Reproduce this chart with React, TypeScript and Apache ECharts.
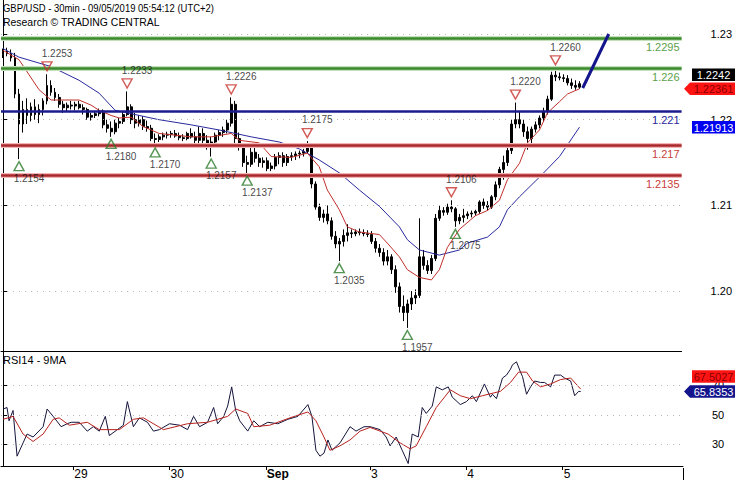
import { useEffect, useRef } from 'react';
import * as echarts from 'echarts';

const FONT = 'Arial, Liberation Sans, sans-serif';

// trading sessions: date, first hour, last hour (hourly candles, UTC+2)
const sessions: [string, number, number][] = [
  ['2019-08-28', 6, 23],
  ['2019-08-29', 0, 23],
  ['2019-08-30', 0, 23],
  ['2019-09-01', 22, 23],
  ['2019-09-02', 0, 23],
  ['2019-09-03', 0, 23],
  ['2019-09-04', 0, 23],
  ['2019-09-05', 0, 4],
];
const futureSlots = 25;

// candles: [open, close, low, high]
const aug28 = [
  [1.2276, 1.2280, 1.2272, 1.2283], [1.2280, 1.2277, 1.2274, 1.2284], [1.2277, 1.2272, 1.2268, 1.2282],
  [1.2272, 1.2230, 1.2225, 1.2278], [1.2230, 1.2195, 1.2154, 1.2236], [1.2195, 1.2212, 1.2185, 1.2222],
  [1.2212, 1.2205, 1.2195, 1.2225], [1.2205, 1.2215, 1.2198, 1.2220], [1.2215, 1.2206, 1.2200, 1.2224],
  [1.2206, 1.2212, 1.2196, 1.2218], [1.2212, 1.2222, 1.2205, 1.2225], [1.2222, 1.2240, 1.2218, 1.2253],
  [1.2240, 1.2232, 1.2228, 1.2246], [1.2232, 1.2226, 1.2222, 1.2237], [1.2226, 1.2218, 1.2214, 1.2230],
  [1.2218, 1.2214, 1.2208, 1.2222], [1.2214, 1.2217, 1.2210, 1.2220], [1.2217, 1.2216, 1.2212, 1.2222],
];
const aug29 = [
  [1.2216, 1.2218, 1.2211, 1.2221], [1.2218, 1.2214, 1.2212, 1.2222], [1.2214, 1.2212, 1.2206, 1.2218],
  [1.2212, 1.2203, 1.2200, 1.2214], [1.2203, 1.2205, 1.2199, 1.2208], [1.2205, 1.2207, 1.2202, 1.2210],
  [1.2207, 1.2210, 1.2204, 1.2213], [1.2210, 1.2194, 1.2190, 1.2212], [1.2194, 1.2190, 1.2185, 1.2200],
  [1.2190, 1.2186, 1.2180, 1.2198], [1.2186, 1.2196, 1.2183, 1.2200], [1.2196, 1.2198, 1.2190, 1.2202],
  [1.2198, 1.2206, 1.2195, 1.2210], [1.2206, 1.2215, 1.2204, 1.2233], [1.2215, 1.2200, 1.2195, 1.2218],
  [1.2200, 1.2196, 1.2190, 1.2208], [1.2196, 1.2200, 1.2192, 1.2205], [1.2200, 1.2192, 1.2188, 1.2204],
  [1.2192, 1.2190, 1.2186, 1.2199], [1.2190, 1.2178, 1.2175, 1.2194], [1.2178, 1.2177, 1.2170, 1.2184],
  [1.2177, 1.2180, 1.2174, 1.2183], [1.2180, 1.2182, 1.2176, 1.2185], [1.2182, 1.2183, 1.2178, 1.2186],
];
const aug30 = [
  [1.2183, 1.2184, 1.2179, 1.2187], [1.2184, 1.2181, 1.2179, 1.2188], [1.2181, 1.2179, 1.2176, 1.2185],
  [1.2179, 1.2178, 1.2175, 1.2183], [1.2178, 1.2184, 1.2176, 1.2186], [1.2184, 1.2180, 1.2178, 1.2190],
  [1.2180, 1.2176, 1.2172, 1.2186], [1.2176, 1.2184, 1.2170, 1.2192], [1.2184, 1.2176, 1.2172, 1.2190],
  [1.2176, 1.2172, 1.2165, 1.2182], [1.2172, 1.2174, 1.2157, 1.2180], [1.2174, 1.2182, 1.2170, 1.2185],
  [1.2182, 1.2185, 1.2176, 1.2188], [1.2185, 1.2188, 1.2180, 1.2192], [1.2188, 1.2196, 1.2184, 1.2200],
  [1.2196, 1.2218, 1.2192, 1.2226], [1.2218, 1.2178, 1.2172, 1.2222], [1.2178, 1.2168, 1.2164, 1.2185],
  [1.2168, 1.2150, 1.2145, 1.2172], [1.2150, 1.2148, 1.2137, 1.2158], [1.2148, 1.2162, 1.2145, 1.2168],
  [1.2162, 1.2155, 1.2150, 1.2170], [1.2155, 1.2150, 1.2145, 1.2160], [1.2150, 1.2152, 1.2144, 1.2156],
];
const sep1 = [
  [1.2152, 1.2143, 1.2140, 1.2156], [1.2143, 1.2146, 1.2140, 1.2150],
];
const sep2 = [
  [1.2146, 1.2156, 1.2142, 1.2160], [1.2156, 1.2158, 1.2148, 1.2162], [1.2158, 1.2150, 1.2145, 1.2162],
  [1.2150, 1.2157, 1.2146, 1.2160], [1.2157, 1.2158, 1.2152, 1.2162], [1.2158, 1.2160, 1.2153, 1.2163],
  [1.2160, 1.2161, 1.2155, 1.2164], [1.2161, 1.2163, 1.2157, 1.2166], [1.2163, 1.2168, 1.2160, 1.2175],
  [1.2168, 1.2125, 1.2120, 1.2170], [1.2125, 1.2098, 1.2095, 1.2128], [1.2098, 1.2086, 1.2082, 1.2102],
  [1.2086, 1.2090, 1.2080, 1.2095], [1.2090, 1.2082, 1.2078, 1.2100], [1.2082, 1.2064, 1.2060, 1.2086],
  [1.2064, 1.2055, 1.2050, 1.2070], [1.2055, 1.2058, 1.2035, 1.2062], [1.2058, 1.2065, 1.2052, 1.2072],
  [1.2065, 1.2068, 1.2058, 1.2078], [1.2068, 1.2067, 1.2062, 1.2072], [1.2067, 1.2069, 1.2064, 1.2072],
  [1.2069, 1.2068, 1.2065, 1.2073], [1.2068, 1.2067, 1.2064, 1.2072], [1.2067, 1.2066, 1.2063, 1.2071],
];
const sep3 = [
  [1.2066, 1.2058, 1.2055, 1.2070], [1.2058, 1.2050, 1.2045, 1.2062], [1.2050, 1.2045, 1.2040, 1.2055],
  [1.2045, 1.2035, 1.2030, 1.2050], [1.2035, 1.2040, 1.2030, 1.2048], [1.2040, 1.2025, 1.2020, 1.2043],
  [1.2025, 1.2005, 1.1998, 1.2030], [1.2005, 1.1982, 1.1975, 1.2010], [1.1982, 1.1975, 1.1965, 1.1995],
  [1.1975, 1.1985, 1.1957, 1.1990], [1.1985, 1.1992, 1.1978, 1.2000], [1.1992, 1.1995, 1.1985, 1.2002],
  [1.1995, 1.2040, 1.1992, 1.2085], [1.2040, 1.2030, 1.2025, 1.2048], [1.2030, 1.2024, 1.2020, 1.2036],
  [1.2024, 1.2038, 1.2020, 1.2042], [1.2038, 1.2085, 1.2035, 1.2090], [1.2085, 1.2094, 1.2082, 1.2100],
  [1.2094, 1.2092, 1.2088, 1.2098], [1.2092, 1.2098, 1.2089, 1.2102], [1.2098, 1.2096, 1.2092, 1.2106],
  [1.2096, 1.2082, 1.2075, 1.2098], [1.2082, 1.2086, 1.2078, 1.2090], [1.2086, 1.2088, 1.2080, 1.2096],
];
const sep4 = [
  [1.2088, 1.2090, 1.2084, 1.2093], [1.2090, 1.2091, 1.2086, 1.2094], [1.2091, 1.2093, 1.2088, 1.2095],
  [1.2093, 1.2104, 1.2090, 1.2106], [1.2104, 1.2100, 1.2096, 1.2108], [1.2100, 1.2098, 1.2094, 1.2105],
  [1.2098, 1.2110, 1.2096, 1.2112], [1.2110, 1.2124, 1.2106, 1.2128], [1.2124, 1.2142, 1.2120, 1.2145],
  [1.2142, 1.2150, 1.2130, 1.2158], [1.2150, 1.2164, 1.2146, 1.2168], [1.2164, 1.2195, 1.2160, 1.2200],
  [1.2195, 1.2200, 1.2190, 1.2220], [1.2200, 1.2195, 1.2190, 1.2210], [1.2195, 1.2186, 1.2180, 1.2200],
  [1.2186, 1.2178, 1.2165, 1.2192], [1.2178, 1.2189, 1.2172, 1.2192], [1.2189, 1.2194, 1.2185, 1.2198],
  [1.2194, 1.2202, 1.2190, 1.2205], [1.2202, 1.2210, 1.2198, 1.2214], [1.2210, 1.2224, 1.2206, 1.2228],
  [1.2224, 1.2252, 1.2222, 1.2256], [1.2252, 1.2250, 1.2245, 1.2260], [1.2250, 1.2249, 1.2246, 1.2255],
];
const sep5 = [
  [1.2249, 1.2248, 1.2244, 1.2253], [1.2248, 1.2243, 1.2240, 1.2252], [1.2243, 1.2240, 1.2236, 1.2248],
  [1.2240, 1.2238, 1.2235, 1.2246], [1.2238, 1.2242, 1.2236, 1.2245],
];

// moving averages on price: [bar index, value]
const maFast: [number, number][] = [
  [0, 1.2281], [4, 1.2270], [9, 1.2235], [12, 1.2223], [19, 1.2223], [22, 1.2217], [24, 1.2211],
  [27, 1.2205], [29, 1.2202], [32, 1.2203], [35, 1.2192], [39, 1.2184], [47, 1.2180], [52, 1.2180],
  [57, 1.2184], [59, 1.2176], [64, 1.2173], [67, 1.2157], [72, 1.2156], [76, 1.2161], [79, 1.2145],
  [81, 1.2118], [84, 1.2095], [86, 1.2075], [89, 1.2069], [94, 1.2066], [96, 1.2056], [99, 1.2040],
  [101, 1.2025], [104, 1.2016], [107, 1.2013], [109, 1.2025], [111, 1.2051], [114, 1.2072],
  [118, 1.2088], [121, 1.2094], [124, 1.2106], [126, 1.2130], [129, 1.2149], [131, 1.2173],
  [134, 1.2188], [136, 1.2208], [139, 1.2221], [141, 1.2230], [144, 1.22361],
];
const maSlow: [number, number][] = [
  [0, 1.2283], [4, 1.2273], [12, 1.2262], [19, 1.2246], [24, 1.2231], [28, 1.2211], [34, 1.2205],
  [39, 1.2200], [47, 1.2194], [54, 1.2188], [62, 1.2180], [69, 1.2174], [74, 1.2166], [79, 1.2153],
  [84, 1.2138], [89, 1.2118], [94, 1.2099], [99, 1.2075], [101, 1.2060], [104, 1.2048], [109, 1.2042],
  [114, 1.2048], [116, 1.2056], [121, 1.2063], [124, 1.2075], [126, 1.2095], [129, 1.2110],
  [134, 1.2133], [139, 1.2157], [144, 1.21913],
];

// pivot annotations: [bar index, price]
const pivotHighs: [number, number][] = [
  [11, 1.2253], [31, 1.2233], [57, 1.2226], [76, 1.2175], [112, 1.2106], [128, 1.2220], [138, 1.2260],
];
const pivotLows: [number, number][] = [
  [4, 1.2154], [27, 1.2180], [38, 1.2170], [52, 1.2157], [61, 1.2137], [84, 1.2035], [101, 1.1957], [113, 1.2075],
];

// support / resistance levels
const levelValues = [1.2295, 1.226, 1.221, 1.217, 1.2135];
const levelLabels = ['1.2295', '1.226', '1.221', '1.217', '1.2135'];
const levelKinds = ['green', 'green', 'blue', 'red', 'red'];

// projection arrow [bar index, price]
const arrowFrom: [number, number] = [144.8, 1.2237];
const arrowTo: [number, number] = [151.3, 1.2300];

// RSI(14) and its 9-period MA: [bar index, value]
const rsi14: [number, number][] = [
  [0, 54], [1, 55], [1.5, 46], [2.5, 53], [3.5, 22], [5, 31], [6, 37], [7.5, 35], [10, 42], [11, 54],
  [12.5, 49], [14.5, 42], [16, 44], [17, 45], [19, 45], [21, 39], [22.5, 42], [24, 39], [25.5, 49],
  [26.5, 36], [28.5, 40], [30, 43], [31, 59], [32.5, 42], [34, 48], [36, 45], [37.5, 39], [39, 40],
  [41.5, 44], [44, 43], [46, 40], [47.5, 49], [49, 42], [51, 45], [52.5, 55], [53.5, 44], [55, 49],
  [56, 56], [57, 69], [58, 53], [59, 46], [61, 39], [62.5, 46], [64, 42], [66, 45], [68.5, 44],
  [71, 47], [73.5, 49], [76, 57], [77, 49], [78, 26], [79, 22], [80, 24], [81, 33], [82, 26], [84, 31],
  [86.5, 42], [88, 39], [90, 42], [91.5, 42], [94, 40], [95.5, 35], [96.5, 29], [98, 35], [99.5, 26],
  [101, 17], [102, 37], [103.5, 35], [104.5, 55], [105.5, 51], [107, 56], [108, 69], [109.5, 67],
  [111, 69], [112, 62], [114, 57], [115.5, 59], [117, 63], [118, 59], [120, 71], [121.5, 62], [122, 64],
  [123, 61], [124.5, 75], [125.5, 77], [126.5, 81], [127, 84], [128, 86], [129, 79], [129.5, 76],
  [130.5, 64], [131.5, 69], [132.5, 73], [134, 72], [135, 72], [136.5, 69], [137.5, 77], [139, 77],
  [140, 75], [141.5, 73], [142.5, 63], [143.5, 66], [144, 65.8353],
];
const rsiMa9: [number, number][] = [
  [0, 47], [2.5, 49], [5, 37], [7.5, 32], [10, 37], [12.5, 47], [14, 48], [16.5, 43], [21, 45], [24, 40],
  [29, 40], [32.5, 47], [35, 48], [40, 40], [46, 44], [51, 45], [56, 49], [58, 54], [61, 51], [62.5, 42],
  [66.5, 43], [71.5, 48], [76, 52], [78, 46], [80, 35], [81.5, 26], [84, 29], [86.5, 33], [89, 39],
  [91.5, 41.5], [96, 37], [99, 31], [101.5, 27], [103, 29], [105.5, 42], [108, 55], [111.5, 67],
  [114, 63], [116.5, 61], [119.5, 63], [124, 66], [126.5, 72], [128.5, 79], [130.5, 79], [132, 73],
  [134, 69], [136.5, 71], [139, 74], [141.5, 75], [144, 67.5027],
];

// axes
const priceTicks = [1.2, 1.21, 1.22, 1.23];
const rsiTicks = [30, 50, 70];
const priceExtent: [number, number] = [1.19301, 1.23397];
const rsiExtent: [number, number] = [15.33, 92.67];
const dayMarks: [string, string][] = [
  ['2019-08-29 00:00', '29'], ['2019-08-30 00:00', '30'], ['2019-09-01 22:00', 'Sep'],
  ['2019-09-03 00:00', '3'], ['2019-09-04 00:00', '4'], ['2019-09-05 00:00', '5'],
];

const titleText = 'GBP/USD - 30min - 09/05/2019 05:54:12 (UTC+2)';
const subtitleText = 'Research © TRADING CENTRAL';
const rsiTitle = 'RSI14 - 9MA';

export default function App() {
  const ref = useRef<HTMLDivElement>(null);

  useEffect(() => {
    if (!ref.current) return;
    const times: string[] = [];
    sessions.forEach(([d, a, b]) => {
      for (let h = a; h <= b; h++) times.push(`${d} ${String(h).padStart(2, '0')}:00`);
    });
    const categories = [...times, ...Array.from({ length: futureSlots }, (_, i) => `+${i + 1}h`)];
    const nSlots = categories.length;
    const candles = [...aug28, ...aug29, ...aug30, ...sep1, ...sep2, ...sep3, ...sep4, ...sep5];
    const dayTickVals = dayMarks.map(([t]) => times.indexOf(t) - 0.5);
    const dayTickLabel = (v: number) => {
      const i = dayTickVals.findIndex((d) => Math.abs(d - v) < 1e-6);
      if (i < 0) return '';
      const l = dayMarks[i][1];
      return l === 'Sep' ? `{b|${l}}` : l;
    };

    const styles: Record<string, { line: string; halo: string | null; text: string }> = {
      green: { line: '#3b8a2e', halo: '#c4e0bb', text: '#5c9f4a' },
      blue: { line: '#1b1b8e', halo: null, text: '#26269a' },
      red: { line: '#a8282c', halo: '#f2b4b4', text: '#c8403c' },
    };
    const levelLines: any[] = [];
    levelValues.forEach((v, i) => {
      const s = styles[levelKinds[i]];
      if (s.halo) levelLines.push({ yAxis: v, lineStyle: { color: s.halo, width: 5, type: 'solid' }, label: { show: false } });
      levelLines.push({
        yAxis: v,
        lineStyle: { color: s.line, width: 2.5, type: 'solid' },
        label: {
          show: true, formatter: levelLabels[i], position: 'insideEndBottom', color: s.text,
          fontSize: 11, fontFamily: FONT, distance: [2, 3],
        },
      });
    });

    const dotted = { color: '#b8b8b8', width: 1, type: [1, 5] as any };

    const pivotLabel = {
      show: true, fontSize: 10, fontFamily: FONT, color: '#111', offset: [10, 0],
      formatter: (p: any) => p.value[1].toFixed(4),
    };

    const option: any = {
      animation: false,
      backgroundColor: '#fff',
      grid: [
        { left: 1, right: 52, top: 0, height: 351 },
        { left: 1, right: 52, top: 352, height: 116 },
      ],
      xAxis: [
        {
          type: 'category', gridIndex: 0, data: categories, boundaryGap: true,
          axisLine: { show: true, lineStyle: { color: '#000', width: 1 } },
          axisTick: { show: false }, axisLabel: { show: false }, splitLine: { show: false },
        },
        { type: 'value', gridIndex: 0, min: -0.5, max: nSlots - 0.5, show: false },
        {
          type: 'value', gridIndex: 1, min: -0.5, max: nSlots - 0.5,
          axisLine: { show: true, lineStyle: { color: '#000', width: 1 } },
          axisTick: { show: true, customValues: dayTickVals, length: 4, lineStyle: { color: '#000' } },
          axisLabel: {
            show: true, customValues: dayTickVals, formatter: dayTickLabel, align: 'left', margin: 2,
            padding: [0, 0, 0, 1], fontSize: 12, fontFamily: FONT, color: '#000',
            rich: { b: { fontWeight: 'bold', fontSize: 12, fontFamily: FONT, color: '#000' } },
          },
          splitLine: { show: false },
        },
      ],
      yAxis: [
        {
          type: 'value', gridIndex: 0, position: 'right', min: priceExtent[0], max: priceExtent[1],
          axisLine: { show: true, lineStyle: { color: '#000', width: 1 } },
          axisTick: { show: true, customValues: priceTicks, length: 5, lineStyle: { color: '#000' } },
          axisLabel: {
            show: true, customValues: priceTicks, margin: 29, fontSize: 11, fontFamily: FONT, color: '#000',
            formatter: (v: number) => v.toFixed(2),
          },
          splitLine: { show: false },
        },
        {
          type: 'value', gridIndex: 1, position: 'right', min: rsiExtent[0], max: rsiExtent[1],
          axisLine: { show: true, lineStyle: { color: '#000', width: 1 } },
          axisTick: { show: true, customValues: rsiTicks, length: 5, lineStyle: { color: '#000' } },
          axisLabel: {
            show: true, customValues: rsiTicks, margin: 29, fontSize: 11, fontFamily: FONT, color: '#000',
            formatter: (v: number) => String(v),
          },
          splitLine: { show: false },
        },
      ],
      series: [
        {
          type: 'line', xAxisIndex: 1, yAxisIndex: 0, data: [], silent: true, z: 1,
          markLine: {
            silent: true, symbol: 'none', animation: false, precision: 5,
            lineStyle: dotted, label: { show: false },
            data: priceTicks.map((v) => ({ yAxis: v })),
          },
        },
        {
          type: 'candlestick', xAxisIndex: 0, yAxisIndex: 0, data: candles, barWidth: 2.4, z: 2, silent: true,
          itemStyle: { color: '#000', color0: '#000', borderColor: '#000', borderColor0: '#000', borderWidth: 1 },
        },
        {
          type: 'line', xAxisIndex: 1, yAxisIndex: 0, data: [], silent: true, z: 3,
          markLine: { silent: true, symbol: 'none', animation: false, precision: 5, data: levelLines },
        },
        {
          type: 'line', xAxisIndex: 1, yAxisIndex: 0, data: maSlow, showSymbol: false, silent: true, z: 4,
          lineStyle: { color: '#2a2a9e', width: 1 },
        },
        {
          type: 'line', xAxisIndex: 1, yAxisIndex: 0, data: maFast, showSymbol: false, silent: true, z: 4,
          lineStyle: { color: '#c0302c', width: 1 },
          markLine: {
            silent: true, animation: false, precision: 5, symbol: ['none', 'arrow'], symbolSize: [0, 13],
            lineStyle: { color: '#14148c', width: 3, type: 'solid' }, label: { show: false },
            data: [[{ coord: arrowFrom }, { coord: arrowTo }]],
          },
        },
        {
          type: 'scatter', xAxisIndex: 0, yAxisIndex: 0, data: pivotHighs, silent: true, z: 5,
          symbol: 'path://M0,0L10,0L5,9Z', symbolSize: [10, 9], symbolOffset: [0, -8],
          itemStyle: { color: 'rgba(255,255,255,0)', borderColor: '#c8322d', borderWidth: 1.4 },
          label: { ...pivotLabel, position: 'top', distance: 3 },
        },
        {
          type: 'scatter', xAxisIndex: 0, yAxisIndex: 0, data: pivotLows, silent: true, z: 5,
          symbol: 'path://M5,0L10,9L0,9Z', symbolSize: [10, 9], symbolOffset: [0, 7],
          itemStyle: { color: 'rgba(255,255,255,0)', borderColor: '#2c7a2a', borderWidth: 1.4 },
          label: { ...pivotLabel, position: 'bottom', distance: 2 },
        },
        {
          type: 'line', xAxisIndex: 2, yAxisIndex: 1, data: rsi14, showSymbol: false, silent: true, z: 3,
          lineStyle: { color: '#14143c', width: 1 },
          markLine: {
            silent: true, symbol: 'none', animation: false, lineStyle: dotted, label: { show: false },
            data: rsiTicks.map((v) => ({ yAxis: v })),
          },
        },
        {
          type: 'line', xAxisIndex: 2, yAxisIndex: 1, data: rsiMa9, showSymbol: false, silent: true, z: 4,
          lineStyle: { color: '#b8221e', width: 1 },
        },
      ],
    };

    const chart = echarts.init(ref.current, null, { renderer: 'svg' });
    chart.setOption(option);

    const py = (v: number) => chart.convertToPixel({ yAxisIndex: 0 }, v) as number;
    const ry = (v: number) => chart.convertToPixel({ yAxisIndex: 1 }, v) as number;
    const lastClose = candles[candles.length - 1][1];
    const lastFast = maFast[maFast.length - 1][1];
    const lastSlow = maSlow[maSlow.length - 1][1];
    const lastRsi = rsi14[rsi14.length - 1][1];
    const lastRsiMa = rsiMa9[rsiMa9.length - 1][1];

    const tagH = 12.5;
    const tag = (yc: number, text: string, bg: string, fg: string, pointer: boolean): any[] => {
      const left = pointer ? 690 : 692;
      const shape = pointer
        ? { type: 'polygon', shape: { points: [[684, yc], [left, yc - tagH / 2], [735, yc - tagH / 2], [735, yc + tagH / 2], [left, yc + tagH / 2]] }, style: { fill: bg }, z: 100 }
        : { type: 'rect', shape: { x: left, y: yc - tagH / 2, width: 735 - left, height: tagH }, style: { fill: bg }, z: 100 };
      return [
        shape,
        { type: 'text', x: 713.5, y: yc + 0.5, z: 101, style: { text, fill: fg, font: `11px ${FONT}`, align: 'center', verticalAlign: 'middle' } },
      ];
    };

    const yFast = py(lastFast);
    const yRsi = ry(lastRsi);
    const graphic: any[] = [
      { type: 'text', x: 3, y: 3, z: 100, scaleX: 0.86, style: { text: titleText, fill: '#000', font: `11px ${FONT}`, verticalAlign: 'top' } },
      { type: 'text', x: 3, y: 16, z: 100, scaleX: 0.95, style: { text: subtitleText, fill: '#000', font: `11px ${FONT}`, verticalAlign: 'top' } },
      { type: 'text', x: 3, y: 354, z: 100, style: { text: rsiTitle, fill: '#000', font: `11px ${FONT}`, verticalAlign: 'top' } },
      { type: 'line', z: 100, shape: { x1: 683.5, y1: 468, x2: 683.5, y2: 480 }, style: { stroke: '#000', lineWidth: 1 } },
      ...tag(yFast, lastFast.toFixed(5), '#ff1414', '#8a0000', true),
      ...tag(Math.min(py(lastClose), yFast - tagH - 1.5), lastClose.toFixed(4), '#000', '#fff', false),
      ...tag(py(lastSlow), lastSlow.toFixed(5), '#0000f0', '#fff', false),
      ...tag(yRsi, lastRsi.toFixed(4), '#14148c', '#fff', true),
      ...tag(Math.min(ry(lastRsiMa), yRsi - tagH - 2.5), lastRsiMa.toFixed(4), '#ff1414', '#8a0000', false),
    ];
    chart.setOption({ graphic });

    return () => chart.dispose();
  }, []);

  return <div ref={ref} style={{ position: 'fixed', left: 0, top: 0, width: 735, height: 480 }} />;
}
